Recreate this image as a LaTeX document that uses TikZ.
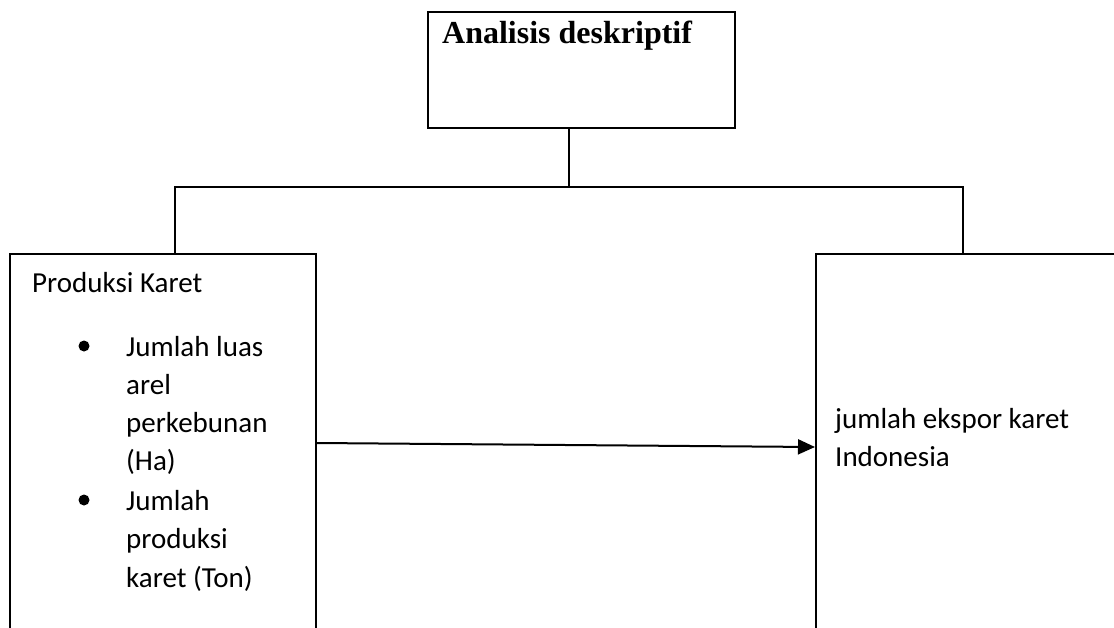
\documentclass[tikz,border=0pt]{standalone}
\usepackage{fontspec}
\setmainfont{Carlito}
\newfontfamily\headfont{Liberation Serif}
\usetikzlibrary{arrows.meta,calc,positioning}

\begin{document}
\begin{tikzpicture}[x=1pt,y=-1pt,line cap=rect,line join=miter,
  box/.style={draw,line width=2pt,anchor=north west,inner sep=0pt},
  wire/.style={line width=1.8pt},
  flow/.style={line width=2pt,-{Triangle[length=17pt,width=15pt]}},
  txt/.style={anchor=base west,inner sep=0pt,font=\fontsize{29}{38}\selectfont},
  head/.style={anchor=base west,inner sep=0pt,font=\headfont\bfseries\fontsize{32}{38}\selectfont},
  dot/.style={circle,fill=black,inner sep=0pt,minimum size=11pt}]

\useasboundingbox (0,0) rectangle (1114,627);
\clip (0,0) rectangle (1114,627);

% Three boxes; the lower two run past the page edge.
\node[box,minimum width=307pt,minimum height=116pt] (top) at (427,11) {};
\node[box,minimum width=306pt,minimum height=420pt] (left) at (9,253) {};
\node[box,minimum width=420pt,minimum height=420pt] (right) at (815,253) {};

\node[head] (title) at (442,43) {Analisis deskriptif};

% Fork from the top box to both lower boxes.
\coordinate (fork) at (569,187);
\coordinate (legL) at (175,187);
\coordinate (legR) at (963,187);
\draw[wire] (top.south -| fork) -- (fork);
\draw[wire] (legL |- left.north) -- (legL) -- (legR) -- (legR |- right.north);

% Left box: heading and bullet list.
\node[txt] (prod) at (32,292) {Produksi Karet};
\node[dot] (b1) at (84,346) {};
\node[dot] (b2) at (84,500) {};
\foreach \line/\yy [count=\i] in {Jumlah luas/356,arel/394,perkebunan/432,(Ha)/470,
  Jumlah/510,produksi/548,karet (Ton)/587}
  \node[txt] (item\i) at (126,\yy) {\line};

% Right box text.
\node[txt] (ekspor) at (835,428) {jumlah ekspor karet};
\node[txt] (indo) at (835,466) {Indonesia};

\draw[flow] (left.east |- 0,443) -- (right.west |- 0,447);

\end{tikzpicture}
\end{document}
